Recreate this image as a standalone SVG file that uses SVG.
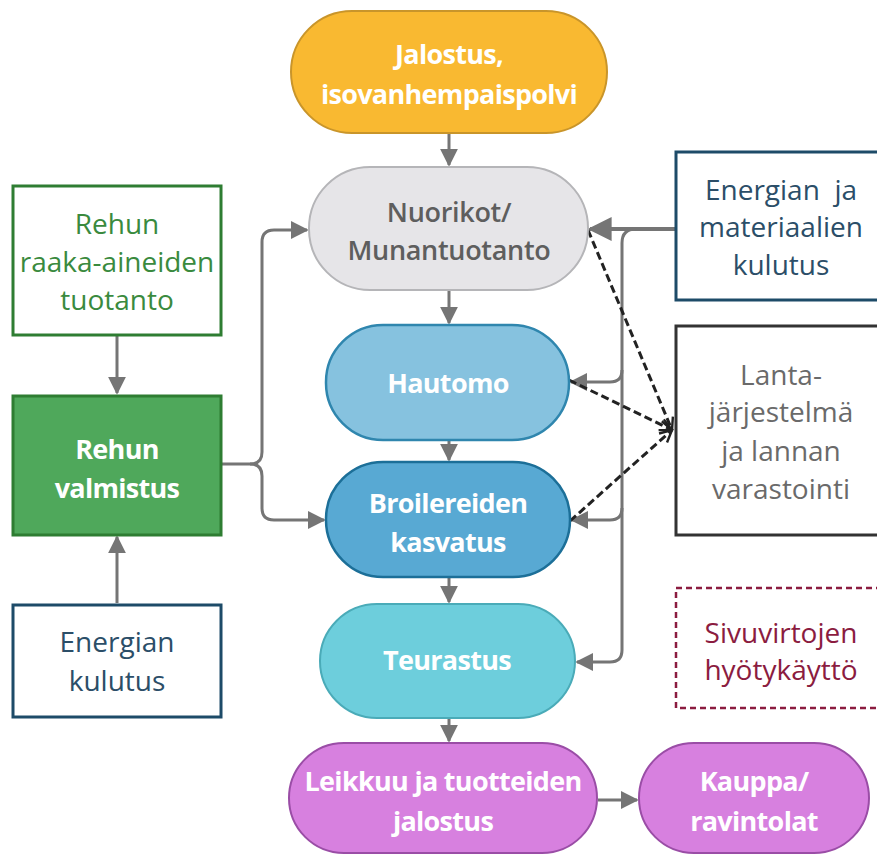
<svg xmlns="http://www.w3.org/2000/svg" width="877" height="854" viewBox="0 0 877 854">
<defs>
<style>
.b{font-family:"Open Sans","Noto Sans",sans-serif;font-weight:700;font-size:27px;fill:#fff;text-anchor:middle;letter-spacing:-0.7px}
.r{font-family:"Open Sans","Noto Sans",sans-serif;font-weight:400;font-size:28px;text-anchor:middle}
.c{fill:none;stroke:#757575;stroke-width:3}
.d{fill:none;stroke:#222;stroke-width:3;stroke-dasharray:8 4}
</style>
<marker id="ah" viewBox="0 0 10 10" refX="9" refY="5" markerWidth="6" markerHeight="6" markerUnits="strokeWidth" orient="auto">
<path d="M0,0 L10,5 L0,10 Z" fill="#757575"/>
</marker>
<marker id="oa" viewBox="0 0 10 10" refX="9" refY="5" markerWidth="5" markerHeight="5" markerUnits="strokeWidth" orient="auto">
<path d="M1,1 L9,5 L1,9" fill="none" stroke="#222" stroke-width="1.6"/>
</marker>
</defs>
<rect width="877" height="854" fill="#fff"/>

<g id="connectors">
<path class="c" d="M449,134 V165" marker-end="url(#ah)"/>
<path class="c" d="M449,291 V323" marker-end="url(#ah)"/>
<path class="c" d="M449,441 V460" marker-end="url(#ah)"/>
<path class="c" d="M449,578 V602" marker-end="url(#ah)"/>
<path class="c" d="M449,719 V741" marker-end="url(#ah)"/>
<path class="c" d="M598,800 H637" marker-end="url(#ah)"/>
<path class="c" d="M117,336 V393" marker-end="url(#ah)"/>
<path class="c" d="M117,603 V537" marker-end="url(#ah)"/>
<path class="c" d="M222,464 H250 Q262,464 262,452 V242 Q262,230 274,230 H307" marker-end="url(#ah)"/>
<path class="c" d="M250,464 Q262,464 262,476 V508 Q262,520 274,520 H324" marker-end="url(#ah)"/>
<path class="c" d="M675,229 H590" marker-end="url(#ah)" style="stroke-width:4"/>
<path class="c" d="M636,229 Q622,229 622,243 V650 Q622,662 610,662 H577" marker-end="url(#ah)"/>
<path class="c" d="M622,370 Q622,382 610,382 H571" marker-end="url(#ah)"/>
<path class="c" d="M622,508 Q622,520 610,520 H572" marker-end="url(#ah)"/>
<path class="d" d="M588,230 L672,430" marker-end="url(#oa)"/>
<path class="d" d="M569,380 L672,430" marker-end="url(#oa)"/>
<path class="d" d="M570,521 L672,430" marker-end="url(#oa)"/>
</g>

<g id="jalostus">
<rect x="291" y="11" width="316" height="122" rx="61" fill="#F9B931" stroke="#C9952A" stroke-width="2"/>
<text class="b" x="449" y="64">Jalostus,</text>
<text class="b" x="449" y="104">isovanhempaispolvi</text>
</g>
<g id="nuorikot">
<rect x="309" y="167" width="279" height="123" rx="61" fill="#E6E5E8" stroke="#B5B5B8" stroke-width="2"/>
<text class="b" x="449" y="222" style="fill:#5E5E5E;font-weight:600;letter-spacing:-0.3px">Nuorikot/</text>
<text class="b" x="449" y="260" style="fill:#5E5E5E;font-weight:600;letter-spacing:-0.3px">Munantuotanto</text>
</g>
<g id="hautomo">
<rect x="326" y="325" width="243" height="115" rx="57" fill="#86C2DF" stroke="#2F86AE" stroke-width="2.5"/>
<text class="b" x="448" y="393">Hautomo</text>
</g>
<g id="broilereiden">
<rect x="326" y="462" width="244" height="115" rx="57" fill="#58A9D3" stroke="#1C6F98" stroke-width="2.5"/>
<text class="b" x="448" y="513">Broilereiden</text>
<text class="b" x="448" y="552">kasvatus</text>
</g>
<g id="teurastus">
<rect x="320" y="604" width="255" height="114" rx="57" fill="#6DCEDC" stroke="#4AABB8" stroke-width="2"/>
<text class="b" x="447" y="670">Teurastus</text>
</g>
<g id="leikkuu">
<rect x="289" y="743" width="308" height="110" rx="55" fill="#D780DF" stroke="#9A4DA6" stroke-width="2"/>
<text class="b" x="443" y="791">Leikkuu ja tuotteiden</text>
<text class="b" x="443" y="831">jalostus</text>
</g>
<g id="kauppa">
<rect x="639" y="743" width="230" height="110" rx="55" fill="#D780DF" stroke="#9A4DA6" stroke-width="2"/>
<text class="b" x="754" y="791">Kauppa/</text>
<text class="b" x="754" y="831">ravintolat</text>
</g>
<g id="rehun-raaka">
<rect x="13" y="186" width="208" height="149" fill="#fff" stroke="#2E7D32" stroke-width="3"/>
<text class="r" x="117" y="234" fill="#3A8A3E">Rehun</text>
<text class="r" x="117" y="272" fill="#3A8A3E">raaka-aineiden</text>
<text class="r" x="117" y="310" fill="#3A8A3E">tuotanto</text>
</g>
<g id="rehun-valmistus">
<rect x="13" y="396" width="208" height="139" fill="#4FA85B" stroke="#2E7D32" stroke-width="3"/>
<text class="b" x="117" y="459">Rehun</text>
<text class="b" x="117" y="498">valmistus</text>
</g>
<g id="energian-kulutus">
<rect x="13" y="605" width="208" height="112" fill="#fff" stroke="#1D4B68" stroke-width="3"/>
<text class="r" x="117" y="652" fill="#2B4E68">Energian</text>
<text class="r" x="117" y="691" fill="#2B4E68">kulutus</text>
</g>
<g id="energian-materiaalien">
<rect x="676" y="152" width="210" height="148" fill="#fff" stroke="#1D4B68" stroke-width="3"/>
<text class="r" x="781" y="200" fill="#2B4E68" xml:space="preserve">Energian  ja</text>
<text class="r" x="781" y="237" fill="#2B4E68">materiaalien</text>
<text class="r" x="781" y="275" fill="#2B4E68">kulutus</text>
</g>
<g id="lanta">
<rect x="676" y="326" width="210" height="209" fill="#fff" stroke="#333" stroke-width="3"/>
<text class="r" x="781" y="385" fill="#6A6A6A">Lanta-</text>
<text class="r" x="781" y="422" fill="#6A6A6A">järjestelmä</text>
<text class="r" x="781" y="461" fill="#6A6A6A">ja lannan</text>
<text class="r" x="781" y="499" fill="#6A6A6A">varastointi</text>
</g>
<g id="sivuvirtojen">
<rect x="676" y="588" width="210" height="120" fill="#fff" stroke="#8B1C40" stroke-width="2.5" stroke-dasharray="6 4"/>
<text class="r" x="781" y="643" fill="#8B1C40">Sivuvirtojen</text>
<text class="r" x="781" y="680" fill="#8B1C40">hyötykäyttö</text>
</g>
</svg>
